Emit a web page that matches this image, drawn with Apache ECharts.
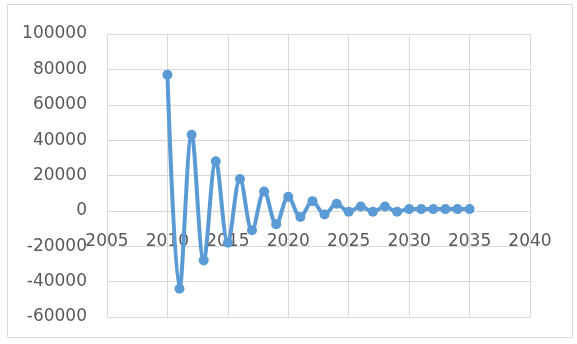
<!DOCTYPE html>
<html>
<head>
<meta charset="utf-8">
<script src="https://cdn.jsdelivr.net/npm/echarts@6/dist/echarts.min.js"></script>
<style>
  html, body { margin: 0; padding: 0; background: #ffffff; }
  #chart { width: 577px; height: 344px; }
</style>
</head>
<body>
<div id="chart"></div>
<script>
// Years and the oscillating, decaying values for each year
const years = [2010, 2011, 2012, 2013, 2014, 2015, 2016, 2017, 2018, 2019,
               2020, 2021, 2022, 2023, 2024, 2025, 2026, 2027, 2028, 2029,
               2030, 2031, 2032, 2033, 2034, 2035];
const values = [77000, -44000, 43000, -28000, 28000, -18000, 18000, -11000, 11000, -7500,
                8000, -3500, 5500, -2000, 4000, -500, 2500, -500, 2500, -500,
                1000, 1000, 1000, 1000, 1000, 1000];

const points = years.map((y, i) => [y, values[i]]);

const gridColor = '#d9d9d9';
const textColor = '#595959';
const labelFont = 'DejaVu Sans';

const Y_MIN = -60000, Y_MAX = 100000;
const gridTop = 34, gridBottom = 27, chartH = 344;
const plotH = chartH - gridTop - gridBottom;
// Shift the year axis up so it crosses the value axis at zero
const zeroOffset = -plotH * (0 - Y_MIN) / (Y_MAX - Y_MIN);

const chart = echarts.init(document.getElementById('chart'));
chart.setOption({
  animation: false,
  backgroundColor: '#ffffff',
  graphic: [{
    type: 'rect',
    shape: { x: 7.5, y: 4.5, width: 565, height: 333 },
    style: { fill: 'none', stroke: gridColor, lineWidth: 1 },
    silent: true
  }],
  grid: { left: 107, right: 47, top: gridTop, bottom: gridBottom, containLabel: false, outerBoundsMode: 'none' },
  xAxis: {
    type: 'value',
    min: 2005,
    max: 2040,
    interval: 5,
    offset: zeroOffset,
    axisLine: { onZero: false, show: true, lineStyle: { color: gridColor, width: 1 } },
    axisTick: { show: false },
    axisLabel: { color: textColor, fontFamily: labelFont, fontSize: 17, margin: 22,
                 formatter: v => String(v) },
    splitLine: { show: true, lineStyle: { color: gridColor, width: 1 } }
  },
  yAxis: {
    type: 'value',
    min: Y_MIN,
    max: Y_MAX,
    interval: 20000,
    axisLine: { show: true, lineStyle: { color: gridColor, width: 1 } },
    axisTick: { show: false },
    axisLabel: { color: textColor, fontFamily: labelFont, fontSize: 17, margin: 20,
                 formatter: v => String(v) },
    splitLine: { show: true, lineStyle: { color: gridColor, width: 1 } }
  },
  series: [{
    type: 'line',
    data: points,
    smooth: 0.35,
    symbol: 'circle',
    symbolSize: 10,
    lineStyle: { color: '#5b9bd5', width: 4 },
    itemStyle: { color: '#5b9bd5' }
  }]
});
</script>
</body>
</html>
